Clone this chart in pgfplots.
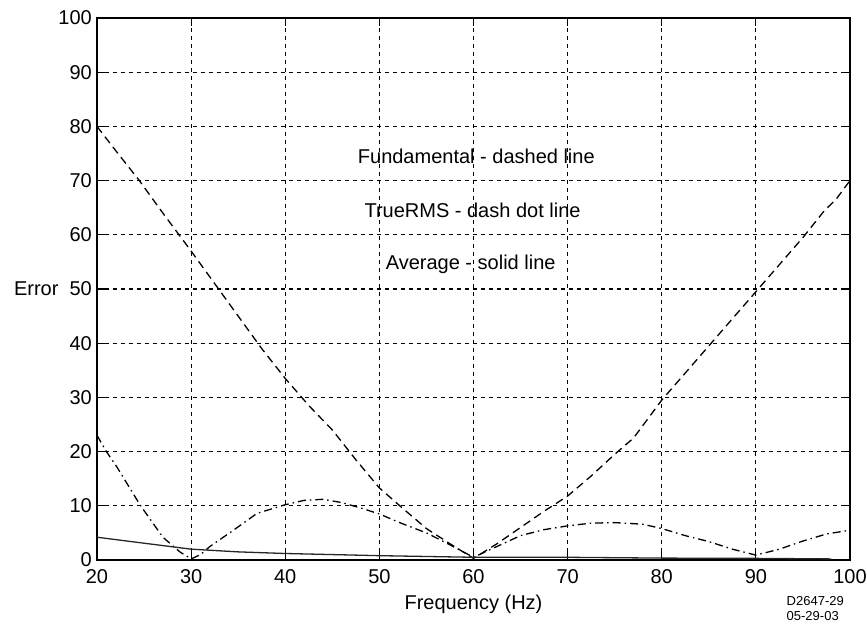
\documentclass[border=0pt]{standalone}
\usepackage{pgfplots}
\pgfplotsset{compat=1.18}
\usepackage{fontspec}
\setmainfont{Liberation Sans}
\begin{document}
\begin{tikzpicture}
\begin{axis}[
  at={(0,0)}, anchor=south west,
  scale only axis, width=753pt, height=542pt,
  xmin=20, xmax=100, ymin=0, ymax=100,
  xtick={20,30,...,100}, ytick={0,10,...,100},
  tick align=inside, major tick length=8pt,
  tick style={black, line width=1.2pt},
  axis line style={black, line width=1.6pt},
  grid=major,
  major grid style={black, line width=1.2pt, dash pattern=on 4pt off 4pt},
  tick label style={font=\fontsize{20}{22}\selectfont},
  /pgf/number format/assume math mode=true,
  xticklabel style={anchor=north, yshift=-9pt, inner sep=0pt},
  yticklabel style={anchor=east, xshift=-5pt, inner sep=0pt},
  clip=false,
]
\addplot[black, line width=1.3pt, dash pattern=on 8pt off 5pt] coordinates {
(20,80) (22,75.5) (24.5,70) (27,64) (30,57) (32.5,51) (35,45) (37.5,39) (40,33.5)
(42.5,28.5) (45,24) (47.5,18.5) (50,13.3) (52.5,9.5) (55,5.8) (57.5,3) (60,0.3)
(62.5,3) (65,6) (67.5,9) (70,11.8) (72.5,15.5) (75,19.5) (77,22.5) (80,29.5)
(82.5,34.5) (85,39.5) (87.5,44.5) (90,49.5) (92.5,54.5) (95,59.5) (97.3,64.5)
(98.5,66.5) (100,70)};
\addplot[black, line width=1.3pt, dash pattern=on 8pt off 4pt on 1.5pt off 4pt] coordinates {
(20,23) (21,20) (22.1,17.2) (24.6,10.1) (27,4.2) (28.8,1.5) (30,0.2) (31,1)
(32,2.5) (34.5,5.5) (37,8.6) (40,10.2) (42,11) (44,11.2) (46,10.6) (48,9.6)
(50,8.5) (52,7) (55,5) (57.5,2.8) (60,0.5) (62.5,2.5) (65,4.5) (67.5,5.6)
(70,6.3) (72.5,6.8) (75,6.9) (78,6.6) (80,5.8) (82.5,4.5) (85,3.4) (87.5,2)
(90,0.9) (92.5,2) (95,3.5) (97.5,4.8) (100,5.5)};
\addplot[black!85, line width=1.3pt] coordinates {
(20,4.2) (25,3.1) (30,2.0) (35,1.5) (40,1.2) (45,1.0) (50,0.8) (60,0.5) (70,0.5)
(80,0.35) (90,0.3) (98,0.2)};
\node[font=\fontsize{20}{22}\selectfont] at (axis cs:60.3,74.5) {Fundamental - dashed line};
\node[font=\fontsize{20}{22}\selectfont] at (axis cs:59.9,64.6) {TrueRMS - dash dot line};
\node[font=\fontsize{20}{22}\selectfont] at (axis cs:59.7,54.6) {Average - solid line};
\node[font=\fontsize{20}{22}\selectfont, anchor=east] at (axis cs:20,50) [xshift=-35pt] {Error};
\node[font=\fontsize{20}{22}\selectfont, anchor=base] at (axis cs:60,0) [yshift=-49pt] {Frequency (Hz)};
\node[font=\fontsize{13}{14.5}\selectfont, anchor=north west, align=left] at (axis cs:92.9,0) [yshift=-33pt] {D2647-29\\05-29-03};
\end{axis}
\pgfresetboundingbox
\path[use as bounding box] (-97pt,-75pt) rectangle (770pt,560pt);
\end{tikzpicture}
\end{document}
